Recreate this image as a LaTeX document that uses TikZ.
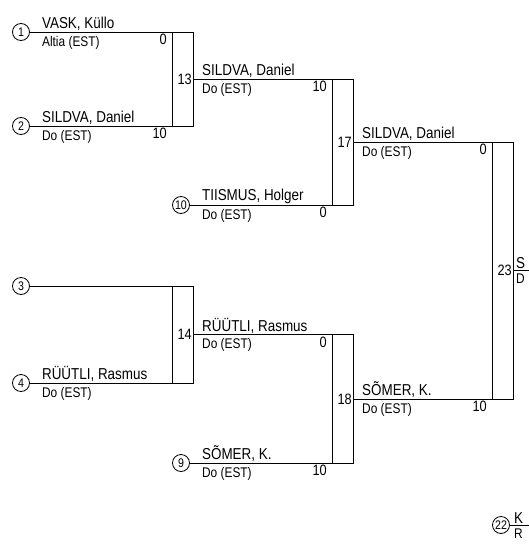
\documentclass[tikz,border=0pt]{standalone}
\usepackage{fontspec}
\setmainfont{Liberation Sans}
\newfontfamily\narrowsans{Liberation Sans}[FakeStretch=0.85]
\tikzstyle{seed}=[draw,circle,line width=0.8,inner sep=0,minimum size=17,font=\narrowsans\fontsize{12.5}{12.5}\selectfont]
\tikzstyle{pname}=[anchor=south west,inner sep=1,font=\narrowsans\fontsize{15.8}{16}\selectfont]
\tikzstyle{club}=[anchor=north west,inner sep=1,font=\narrowsans\fontsize{14}{15}\selectfont]
\tikzstyle{score}=[anchor=north east,inner sep=1,font=\narrowsans\fontsize{15}{16}\selectfont]
\tikzstyle{matchno}=[anchor=east,inner sep=1,font=\narrowsans\fontsize{15}{16}\selectfont]
\tikzstyle{bline}=[line width=1,line cap=rect]
\def\bw{21}

\begin{document}
\begin{tikzpicture}[x=1pt,y=-1pt]
        \useasboundingbox (0,0) rectangle (529,544);
        \clip (0,0) rectangle (529,544);
        \def\xa{193}
        \def\xb{353}
        \def\xc{513}

        % seeds
        \node[seed] (s1) at (21,32) {1};
        \node[seed] (s2) at (21,126) {2};
        \node[seed] (s3) at (21,286) {3};
        \node[seed] (s4) at (21,383) {4};
        \node[seed] (s10) at (181,205) {10};
        \node[seed] (s9) at (181,463) {9};
        \node[seed] (s22) at (501,525) {22};

        % box corners
        \coordinate (m13t) at (\xa,32);
        \coordinate (m13b) at (\xa,126);
        \coordinate (m14t) at (\xa,286);
        \coordinate (m14b) at (\xa,383);
        \coordinate (m17t) at (\xb,79);
        \coordinate (m17b) at (\xb,205);
        \coordinate (m18t) at (\xb,334.5);
        \coordinate (m18b) at (\xb,463);
        \coordinate (m23t) at (\xc,142);
        \coordinate (m23b) at (\xc,399);
        \coordinate (w13) at (\xa,79);
        \coordinate (w14) at (\xa,334.5);
        \coordinate (w17) at (\xb,142);
        \coordinate (w18) at (\xb,399);
        \coordinate (w23) at (\xc,270);
        \coordinate (e23) at (540,270);
        \coordinate (e22) at (540,525);

        % lines
        \draw[bline] (s1) -- (m13t);
        \draw[bline] (s2) -- (m13b);
        \draw[bline] (s3) -- (m14t);
        \draw[bline] (s4) -- (m14b);
        \draw[bline] (s10) -- (m17b);
        \draw[bline] (s9) -- (m18b);
        \draw[bline] (w13) -- (m17t);
        \draw[bline] (w14) -- (m18t);
        \draw[bline] (w17) -- (m23t);
        \draw[bline] (w18) -- (m23b);
        \draw[bline] (w23) -- (e23);
        \draw[bline] (s22) -- (e22);

        % boxes
        \foreach \m in {13,14,17,18,23}
            \draw[bline] (m\m t) rectangle ([xshift=-\bw pt]m\m b);

        % match numbers
        \node[matchno] (n13) at (w13) {13};
        \node[matchno] (n14) at (w14) {14};
        \node[matchno] (n17) at (w17) {17};
        \node[matchno] (n18) at (w18) {18};
        \node[matchno] (n23) at (w23) {23};

        % names and clubs
        \node[pname] (p1) at ([xshift=11pt]s1.east) {VASK, Küllo};
        \node[club] (c1) at ([xshift=11pt,yshift=-3pt]s1.east) {Altia (EST)};
        \node[pname] (p2) at ([xshift=11pt]s2.east) {SILDVA, Daniel};
        \node[club] (c2) at ([xshift=11pt,yshift=-3pt]s2.east) {Do (EST)};
        \node[pname] (p4) at ([xshift=11pt]s4.east) {RÜÜTLI, Rasmus};
        \node[club] (c4) at ([xshift=11pt,yshift=-3pt]s4.east) {Do (EST)};
        \node[pname] (p10) at ([xshift=11pt]s10.east) {TIISMUS, Holger};
        \node[club] (c10) at ([xshift=11pt,yshift=-3pt]s10.east) {Do (EST)};
        \node[pname] (p9) at ([xshift=11pt]s9.east) {SÕMER, K.};
        \node[club] (c9) at ([xshift=11pt,yshift=-3pt]s9.east) {Do (EST)};
        \node[pname] (p13) at ([xshift=8pt]w13) {SILDVA, Daniel};
        \node[club] (c13) at ([xshift=8pt,yshift=-3pt]w13) {Do (EST)};
        \node[pname] (p14) at ([xshift=8pt]w14) {RÜÜTLI, Rasmus};
        \node[club] (c14) at ([xshift=8pt,yshift=-3pt]w14) {Do (EST)};
        \node[pname] (p17) at ([xshift=8pt]w17) {SILDVA, Daniel};
        \node[club] (c17) at ([xshift=8pt,yshift=-3pt]w17) {Do (EST)};
        \node[pname] (p18) at ([xshift=8pt]w18) {SÕMER, K.};
        \node[club] (c18) at ([xshift=8pt,yshift=-3pt]w18) {Do (EST)};
        % only the first letters show at the right edge
        \node[pname] (p23) at ([xshift=2pt]w23) {S};
        \node[club] (c23) at ([xshift=2pt,yshift=-3pt]w23) {D};
        \node[pname] (p22) at ([xshift=3pt]s22.east) {K};
        \node[club] (c22) at ([xshift=3pt,yshift=-3pt]s22.east) {R};

        % scores
        \node[score] (r1) at ([xshift=-25pt,yshift=-1pt]m13t) {0};
        \node[score] (r2) at ([xshift=-25pt,yshift=-1pt]m13b) {10};
        \node[score] (r13) at ([xshift=-25pt,yshift=-1pt]m17t) {10};
        \node[score] (r10) at ([xshift=-25pt,yshift=-1pt]m17b) {0};
        \node[score] (r14) at ([xshift=-25pt,yshift=-1pt]m18t) {0};
        \node[score] (r9) at ([xshift=-25pt,yshift=-1pt]m18b) {10};
        \node[score] (r17) at ([xshift=-25pt,yshift=-1pt]m23t) {0};
        \node[score] (r18) at ([xshift=-25pt,yshift=-1pt]m23b) {10};
\end{tikzpicture}
\end{document}
